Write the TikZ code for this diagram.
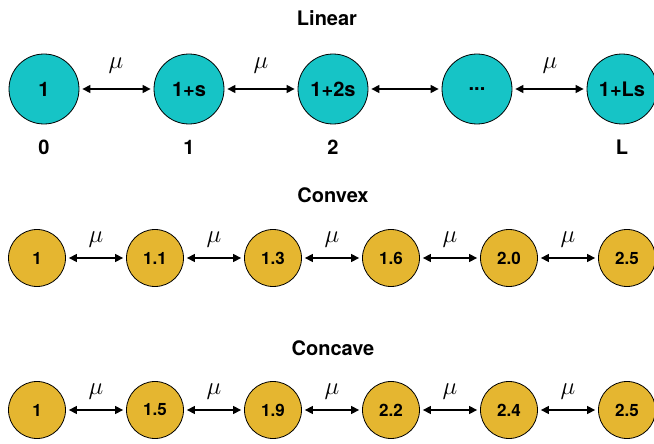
\documentclass[tikz,border=0pt]{standalone}
\usepackage{fontspec}
\setmainfont{TeX Gyre Heros}
\usetikzlibrary{arrows.meta}
\definecolor{lincyan}{RGB}{22,196,198}
\definecolor{gold}{RGB}{229,182,48}
\tikzset{
  bigstate/.style={circle,draw=black,line width=0.8pt,fill=lincyan,minimum size=70pt,inner sep=0pt,font=\fontsize{20}{22}\selectfont\bfseries},
  smallstate/.style={circle,draw=black,line width=0.8pt,fill=gold,minimum size=57pt,inner sep=0pt,font=\fontsize{17}{19}\selectfont\bfseries},
  ttl/.style={font=\fontsize{20}{22}\selectfont\bfseries},
  idx/.style={font=\fontsize{20}{22}\selectfont\bfseries},
  link/.style={{Triangle[length=8pt,width=8pt]}-{Triangle[length=8pt,width=8pt]},line width=1.3pt,shorten <=3pt,shorten >=3pt},
  mulab/.style={font=\fontsize{34}{36}\selectfont},
  mulabs/.style={font=\fontsize{27}{29}\selectfont}
}
\begin{document}
\begin{tikzpicture}[x=1pt,y=-1pt]
\useasboundingbox (0,0) rectangle (654,444);
% Linear
\node[ttl] (tl) at (327,18) {Linear};
\node[bigstate] (a0) at (44,89) {1};
\node[bigstate] (a1) at (189,89) {1+s};
\node[bigstate] (a2) at (333,89) {1+2s};
\node[bigstate] (a3) at (477,89) {...};
\node[bigstate] (a4) at (622,89) {1+Ls};
\draw[link] (a0) -- (a1);
\draw[link] (a1) -- (a2);
\draw[link] (a2) -- (a3);
\draw[link] (a3) -- (a4);
\node[mulab] (m1) at (116,66) {$\mu$};
\node[mulab] (m2) at (261,66) {$\mu$};
\node[mulab] (m4) at (550,66) {$\mu$};
\node[idx] (i0) at (44,147) {0};
\node[idx] (i1) at (189,147) {1};
\node[idx] (i2) at (333,147) {2};
\node[idx] (i4) at (622,147) {L};
% Convex
\node[ttl] (tc) at (333,195) {Convex};
\node[smallstate] (b0) at (37,258) {1};
\node[smallstate] (b1) at (155,258) {1.1};
\node[smallstate] (b2) at (273,258) {1.3};
\node[smallstate] (b3) at (391,258) {1.6};
\node[smallstate] (b4) at (509,258) {2.0};
\node[smallstate] (b5) at (627,258) {2.5};
\foreach \p/\q in {b0/b1,b1/b2,b2/b3,b3/b4,b4/b5}{\draw[link] (\p) -- (\q);}
\node[mulabs] (n1) at (96,240) {$\mu$};
\node[mulabs] (n2) at (214,240) {$\mu$};
\node[mulabs] (n3) at (332,240) {$\mu$};
\node[mulabs] (n4) at (450,240) {$\mu$};
\node[mulabs] (n5) at (568,240) {$\mu$};
% Concave
\node[ttl] (tv) at (333,348) {Concave};
\node[smallstate] (c0) at (37,410) {1};
\node[smallstate] (c1) at (155,410) {1.5};
\node[smallstate] (c2) at (273,410) {1.9};
\node[smallstate] (c3) at (391,410) {2.2};
\node[smallstate] (c4) at (509,410) {2.4};
\node[smallstate] (c5) at (627,410) {2.5};
\foreach \p/\q in {c0/c1,c1/c2,c2/c3,c3/c4,c4/c5}{\draw[link] (\p) -- (\q);}
\node[mulabs] (k1) at (96,392) {$\mu$};
\node[mulabs] (k2) at (214,392) {$\mu$};
\node[mulabs] (k3) at (332,392) {$\mu$};
\node[mulabs] (k4) at (450,392) {$\mu$};
\node[mulabs] (k5) at (568,392) {$\mu$};
\end{tikzpicture}
\end{document}
